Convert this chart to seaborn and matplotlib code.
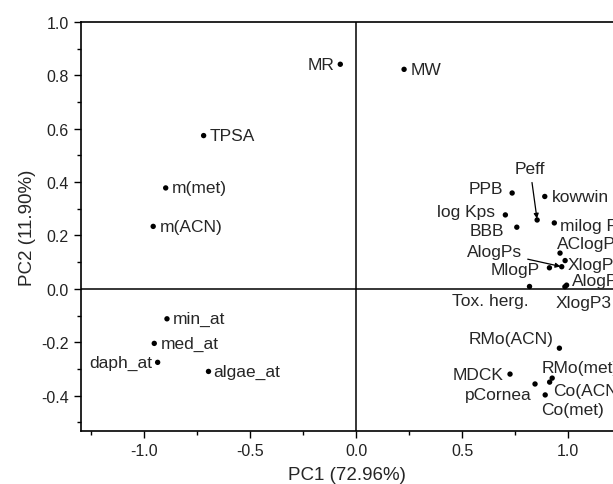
import pandas as pd
import matplotlib
matplotlib.use("Agg")
import matplotlib.pyplot as plt
import seaborn as sns

# PCA loadings
names = ["MR", "MW", "TPSA", "m(met)", "m(ACN)",
         "min_at", "med_at", "daph_at", "algae_at",
         "PPB", "kowwin", "log Kps", "Peff", "milog P", "BBB",
         "AClogP", "XlogP2", "AlogPs", "MlogP", "AlogP", "Tox. herg.", "XlogP3",
         "RMo(ACN)", "MDCK", "RMo(met)", "pCornea", "Co(ACN)", "Co(met)"]
pc1 = [-0.075, 0.226, -0.720, -0.899, -0.958,
       -0.893, -0.953, -0.937, -0.697,
       0.736, 0.890, 0.704, 0.854, 0.935, 0.758,
       0.962, 0.986, 0.970, 0.912, 0.993, 0.818, 0.985,
       0.959, 0.726, 0.925, 0.844, 0.913, 0.892]
pc2 = [0.841, 0.822, 0.574, 0.378, 0.234,
       -0.112, -0.204, -0.275, -0.309,
       0.359, 0.346, 0.277, 0.258, 0.247, 0.231,
       0.134, 0.106, 0.083, 0.079, 0.014, 0.009, 0.008,
       -0.222, -0.319, -0.334, -0.356, -0.349, -0.397]

loadings = pd.DataFrame({"name": names, "PC1": pc1, "PC2": pc2})

# label offsets (pixels, y up) and alignment
label_pos = {
    "MR": (-6, 0, "right"), "MW": (7, 0, "left"), "TPSA": (6, 0, "left"),
    "m(met)": (6, 0, "left"), "m(ACN)": (7, 0, "left"),
    "min_at": (6, 0, "left"), "med_at": (7, 0, "left"),
    "daph_at": (-5, 0, "right"), "algae_at": (5, 0, "left"),
    "PPB": (-9, 5, "right"), "kowwin": (7, 0, "left"), "log Kps": (-10, 3, "right"),
    "milog P": (6, -3, "left"), "BBB": (-13, -3, "right"),
    "AClogP": (-3, 10, "left"), "XlogP2": (2, -4, "left"),
    "MlogP": (-10, -2, "right"), "AlogP": (5, 5, "left"),
    "Tox. herg.": (-1, -14, "right"), "XlogP3": (-9, -16, "left"),
    "RMo(ACN)": (-6, 10, "right"), "MDCK": (-7, 0, "right"),
    "RMo(met)": (-11, 11, "left"), "pCornea": (-3, -11, "right"),
    "Co(ACN)": (3, -8, "left"), "Co(met)": (-4, -15, "left"),
}
arrow_labels = {"Peff": (-7, 51, "center"), "AlogPs": (-40, 15, "right")}

sns.set_style("ticks")
plt.rcParams["font.family"] = ["Liberation Sans", "DejaVu Sans"]
plt.rcParams["axes.unicode_minus"] = False

fig = plt.figure(figsize=(6.13, 4.85), dpi=100)
ax = fig.add_axes([0.1317, 0.1093, 0.8683, 0.8437])

ax.axhline(0, color="black", lw=1.1, zorder=1)
ax.axvline(0, color="black", lw=1.1, zorder=1)

sns.scatterplot(data=loadings, x="PC1", y="PC2", ax=ax, color="black",
                s=15, edgecolor="none", zorder=3, legend=False)

for _, row in loadings.iterrows():
    n = row["name"]
    if n in label_pos:
        dx, dy, ha = label_pos[n]
        ax.annotate(n, (row["PC1"], row["PC2"]), xytext=(dx, dy),
                    textcoords="offset pixels", ha=ha, va="center", fontsize=12.5)
    else:
        dx, dy, ha = arrow_labels[n]
        ax.annotate(n, (row["PC1"], row["PC2"]), xytext=(dx, dy),
                    textcoords="offset pixels", ha=ha, va="center", fontsize=12.5,
                    arrowprops=dict(arrowstyle="-|>", color="black", lw=0.9,
                                    mutation_scale=7, shrinkA=2, shrinkB=1))

ax.set_xlim(-1.30, 1.212)
ax.set_ylim(-0.532, 1.0)
ax.set_xticks([-1.0, -0.5, 0.0, 0.5, 1.0])
ax.set_yticks([-0.4, -0.2, 0.0, 0.2, 0.4, 0.6, 0.8, 1.0])
ax.set_xticks([-1.25, -0.75, -0.25, 0.25, 0.75], minor=True)
ax.set_yticks([-0.5, -0.3, -0.1, 0.1, 0.3, 0.5, 0.7, 0.9], minor=True)
ax.tick_params(which="major", length=5, width=1, labelsize=11.5, color="black",
               labelcolor="#222222")
ax.tick_params(which="minor", length=3, width=1, color="black")

for side in ["left", "bottom", "top"]:
    ax.spines[side].set_color("black")
    ax.spines[side].set_linewidth(1.2)
ax.spines["right"].set_visible(False)

ax.set_xlabel("PC1 (72.96%)", fontsize=13.5, labelpad=6)
ax.set_ylabel("PC2 (11.90%)", fontsize=13.5, labelpad=4)

fig.savefig("out.png", dpi=100)
